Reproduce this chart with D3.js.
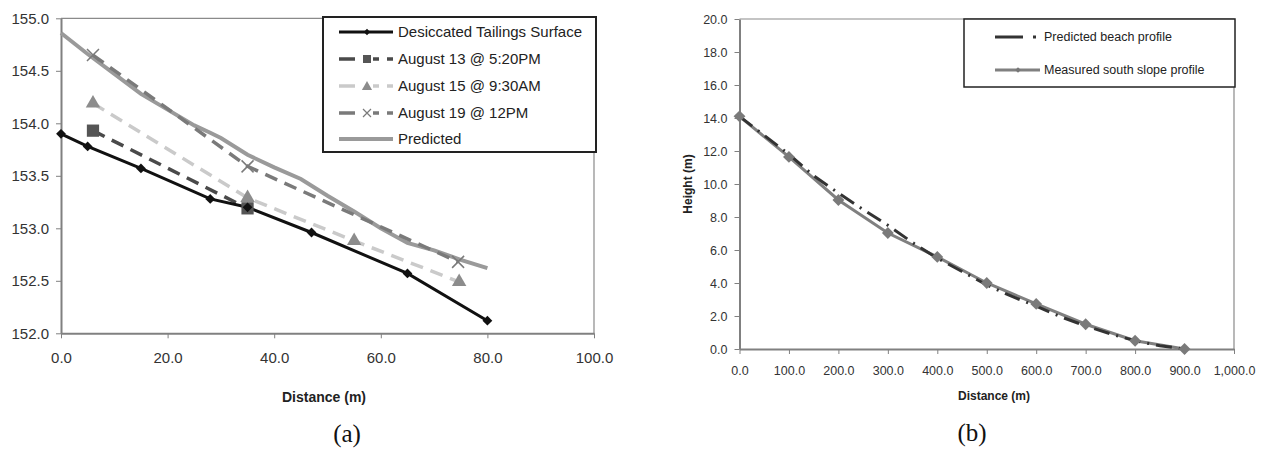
<!DOCTYPE html>
<html>
<head>
<meta charset="utf-8">
<script src="https://cdn.jsdelivr.net/npm/d3@7"></script>
<style>
    body { margin: 0; background: #fff; }
    svg { display: block; font-family: Arial, "Liberation Sans", sans-serif; }
    .axis path, .axis line { stroke: #808080; }
    .axis text { fill: #333; }
</style>
</head>
<body>
<svg id="chart" width="1265" height="455"></svg>
<script>
// ---- chart (a) data ----
var tailingsX = [0, 5, 15, 28, 35, 47, 65, 80];
var tailingsY = [153.90, 153.78, 153.57, 153.28, 153.20, 152.96, 152.57, 152.12];

var aug13X = [6, 35];
var aug13Y = [153.93, 153.19];

var aug15X = [6, 35, 55, 74.7];
var aug15Y = [154.19, 153.29, 152.88, 152.49];

var aug19X = [6, 35, 74.5];
var aug19Y = [154.65, 153.59, 152.68];

var predX = [0, 5, 10, 15, 20, 25, 28, 30, 35, 40, 45, 50, 55, 60, 65, 70, 75, 80];
var predY = [154.86, 154.66, 154.47, 154.28, 154.13, 153.98, 153.91, 153.86, 153.70, 153.58, 153.47, 153.31, 153.16, 153.00, 152.86, 152.79, 152.70, 152.62];

var aTicksX = [0, 20, 40, 60, 80, 100];
var aTicksY = [152, 152.5, 153, 153.5, 154, 154.5, 155];
var aLegend = ["Desiccated Tailings Surface", "August 13 @ 5:20PM", "August 15 @ 9:30AM", "August 19 @ 12PM", "Predicted"];

// ---- chart (b) data ----
var measuredX = [0, 100, 200, 300, 400, 500, 600, 700, 800, 900];
var measuredY = [14.1, 11.64, 9.03, 7.03, 5.58, 4.0, 2.73, 1.5, 0.5, 0.0];

var beachX = [0, 50, 100, 150, 200, 250, 300, 350, 400, 450, 500, 550, 600, 650, 700, 750, 800, 850, 900];
var beachY = [14.1, 12.95, 11.8, 10.5, 9.45, 8.45, 7.5, 6.45, 5.5, 4.7, 3.88, 3.2, 2.6, 1.95, 1.4, 0.92, 0.5, 0.2, 0.0];

var bTicksX = [0, 100, 200, 300, 400, 500, 600, 700, 800, 900, 1000];
var bTicksY = [0, 2, 4, 6, 8, 10, 12, 14, 16, 18, 20];
var bLegend = ["Predicted beach profile", "Measured south slope profile"];

function zip(xs, ys) {
    return xs.map(function(x, i) { return {x: x, y: ys[i]}; });
}

var svg = d3.select("#chart");

// diamond = rotated square
var diamond = function(size) { return d3.symbol().type(d3.symbolSquare).size(size)(); };
function xMark(r) {
    return "M" + (-r) + "," + (-r) + "L" + r + "," + r + "M" + (-r) + "," + r + "L" + r + "," + (-r);
}

// ================= chart (a) =================
var a = {left: 61, right: 594, top: 18.3, bottom: 333.3};
var ax = d3.scaleLinear().domain([0, 100]).range([a.left, a.right]);
var ay = d3.scaleLinear().domain([152, 155]).range([a.bottom, a.top]);

var ga = svg.append("g");

// frame
ga.append("path")
    .attr("d", "M" + a.left + "," + a.top + "H" + a.right + "V" + a.bottom)
    .attr("fill", "none")
    .attr("stroke", "#8a8a8a")
    .attr("stroke-width", 1.2);

ga.append("g")
    .attr("class", "axis")
    .attr("transform", "translate(0," + a.bottom + ")")
    .call(d3.axisBottom(ax).tickValues(aTicksX).tickFormat(d3.format(".1f")).tickSize(5).tickSizeOuter(0).tickPadding(14))
    .call(function(g) {
        g.select(".domain").attr("stroke-width", 2);
        g.selectAll("text").style("font-size", "15px");
    });

ga.append("g")
    .attr("class", "axis")
    .attr("transform", "translate(" + a.left + ",0)")
    .call(d3.axisLeft(ay).tickValues(aTicksY).tickFormat(d3.format(".1f")).tickSize(5).tickSizeOuter(0).tickPadding(7))
    .call(function(g) {
        g.select(".domain").attr("stroke-width", 2);
        g.selectAll("text").style("font-size", "15px");
    });

var lineA = d3.line()
    .x(function(d) { return ax(d.x); })
    .y(function(d) { return ay(d.y); });

// predicted
ga.append("path")
    .attr("d", lineA(zip(predX, predY)))
    .attr("fill", "none")
    .attr("stroke", "#9a9a9a")
    .attr("stroke-width", 4);

// aug 19
ga.append("path")
    .attr("d", lineA(zip(aug19X, aug19Y)))
    .attr("fill", "none")
    .attr("stroke", "#7a7a7a")
    .attr("stroke-width", 3.5)
    .attr("stroke-dasharray", "13,8");

// aug 15
ga.append("path")
    .attr("d", lineA(zip(aug15X, aug15Y)))
    .attr("fill", "none")
    .attr("stroke", "#cacaca")
    .attr("stroke-width", 3.5)
    .attr("stroke-dasharray", "13,8");

// aug 13
ga.append("path")
    .attr("d", lineA(zip(aug13X, aug13Y)))
    .attr("fill", "none")
    .attr("stroke", "#4a4a4a")
    .attr("stroke-width", 3.5)
    .attr("stroke-dasharray", "13,8");

// tailings
ga.append("path")
    .attr("d", lineA(zip(tailingsX, tailingsY)))
    .attr("fill", "none")
    .attr("stroke", "#111")
    .attr("stroke-width", 3);

ga.selectAll(".m19").data(zip(aug19X, aug19Y)).enter().append("path")
    .attr("transform", function(d) { return "translate(" + ax(d.x) + "," + ay(d.y) + ")"; })
    .attr("d", xMark(6))
    .attr("stroke", "#7a7a7a")
    .attr("stroke-width", 1.5)
    .attr("fill", "none");

ga.selectAll(".m15").data(zip(aug15X, aug15Y)).enter().append("path")
    .attr("transform", function(d) { return "translate(" + ax(d.x) + "," + ay(d.y) + ")"; })
    .attr("d", d3.symbol().type(d3.symbolTriangle).size(90)())
    .attr("fill", "#8c8c8c");

ga.selectAll(".m13").data(zip(aug13X, aug13Y)).enter().append("path")
    .attr("transform", function(d) { return "translate(" + ax(d.x) + "," + ay(d.y) + ")"; })
    .attr("d", d3.symbol().type(d3.symbolSquare).size(150)())
    .attr("fill", "#555");

ga.selectAll(".mt").data(zip(tailingsX, tailingsY)).enter().append("path")
    .attr("transform", function(d) { return "translate(" + ax(d.x) + "," + ay(d.y) + ") rotate(45)"; })
    .attr("d", diamond(48))
    .attr("fill", "#111");

// legend (a)
ga.append("rect")
    .attr("x", 323).attr("y", 17)
    .attr("width", 273).attr("height", 135)
    .attr("fill", "#fff")
    .attr("stroke", "#222")
    .attr("stroke-width", 2);

var legA = [
    {color: "#111", dash: null, w: 3},
    {color: "#4a4a4a", dash: "16,8", w: 3.5},
    {color: "#cacaca", dash: "16,8", w: 3.5},
    {color: "#7a7a7a", dash: "16,8", w: 3.5},
    {color: "#9a9a9a", dash: null, w: 4}
];
var legAY = [32, 59, 86, 113, 139];

aLegend.forEach(function(name, i) {
    var y = legAY[i];
    ga.append("line")
        .attr("x1", 339).attr("x2", 393)
        .attr("y1", y).attr("y2", y)
        .attr("stroke", legA[i].color)
        .attr("stroke-width", legA[i].w)
        .attr("stroke-dasharray", legA[i].dash);
    ga.append("text")
        .attr("x", 398).attr("y", y)
        .attr("dy", "0.35em")
        .style("font-size", "15px")
        .attr("fill", "#222")
        .text(name);
});
ga.append("path").attr("transform", "translate(367," + legAY[0] + ") rotate(45)").attr("d", diamond(20)).attr("fill", "#111");
ga.append("rect").attr("x", 362).attr("y", legAY[1] - 5).attr("width", 11).attr("height", 10).attr("fill", "#fff");
ga.append("path").attr("transform", "translate(367," + legAY[1] + ")").attr("d", d3.symbol().type(d3.symbolSquare).size(64)()).attr("fill", "#555");
ga.append("rect").attr("x", 361).attr("y", legAY[2] - 5).attr("width", 12).attr("height", 10).attr("fill", "#fff");
ga.append("path").attr("transform", "translate(367," + (legAY[2] + 1) + ")").attr("d", d3.symbol().type(d3.symbolTriangle).size(45)()).attr("fill", "#8c8c8c");
ga.append("rect").attr("x", 361).attr("y", legAY[3] - 5).attr("width", 12).attr("height", 10).attr("fill", "#fff");
ga.append("path").attr("transform", "translate(367," + legAY[3] + ")").attr("d", xMark(4)).attr("stroke", "#7a7a7a").attr("stroke-width", 1.2);

ga.append("text")
    .attr("x", 324).attr("y", 397)
    .attr("dy", "0.35em")
    .attr("text-anchor", "middle")
    .style("font-size", "14px")
    .style("font-weight", "bold")
    .attr("fill", "#222")
    .text("Distance (m)");

ga.append("text")
    .attr("x", 347).attr("y", 433)
    .attr("dy", "0.35em")
    .attr("text-anchor", "middle")
    .style("font-family", "'Liberation Serif', 'Times New Roman', serif")
    .style("font-size", "25px")
    .attr("fill", "#111")
    .text("(a)");

// ================= chart (b) =================
var b = {left: 739.5, right: 1234, top: 19, bottom: 349};
var bx = d3.scaleLinear().domain([0, 1000]).range([b.left, b.right]);
var by = d3.scaleLinear().domain([0, 20]).range([b.bottom, b.top]);

var gb = svg.append("g");

gb.append("path")
    .attr("d", "M" + b.left + "," + b.top + "H" + b.right + "V" + b.bottom)
    .attr("fill", "none")
    .attr("stroke", "#8a8a8a")
    .attr("stroke-width", 1.2);

gb.append("g")
    .attr("class", "axis")
    .attr("transform", "translate(0," + b.bottom + ")")
    .call(d3.axisBottom(bx).tickValues(bTicksX).tickFormat(d3.format(",.1f")).tickSize(5).tickSizeOuter(0).tickPadding(12))
    .call(function(g) {
        g.select(".domain").attr("stroke-width", 2);
        g.selectAll("text").style("font-size", "12.5px");
    });

gb.append("g")
    .attr("class", "axis")
    .attr("transform", "translate(" + b.left + ",0)")
    .call(d3.axisLeft(by).tickValues(bTicksY).tickFormat(d3.format(".1f")).tickSize(5).tickSizeOuter(0).tickPadding(7))
    .call(function(g) {
        g.select(".domain").attr("stroke-width", 2);
        g.selectAll("text").style("font-size", "12.5px");
    });

var lineB = d3.line()
    .x(function(d) { return bx(d.x); })
    .y(function(d) { return by(d.y); });

gb.append("path")
    .attr("d", lineB(zip(measuredX, measuredY)))
    .attr("fill", "none")
    .attr("stroke", "#808080")
    .attr("stroke-width", 3);

gb.append("path")
    .attr("d", lineB(zip(beachX, beachY)))
    .attr("fill", "none")
    .attr("stroke", "#333")
    .attr("stroke-width", 3)
    .attr("stroke-dasharray", "16,7,2,7");

gb.selectAll(".mm").data(zip(measuredX, measuredY)).enter().append("path")
    .attr("transform", function(d) { return "translate(" + bx(d.x) + "," + by(d.y) + ") rotate(45)"; })
    .attr("d", diamond(70))
    .attr("fill", "#7a7a7a");

// legend (b)
gb.append("rect")
    .attr("x", 964).attr("y", 19)
    .attr("width", 271).attr("height", 68)
    .attr("fill", "#fff")
    .attr("stroke", "#222")
    .attr("stroke-width", 1.5);

gb.append("line")
    .attr("x1", 995).attr("x2", 1040).attr("y1", 37).attr("y2", 37)
    .attr("stroke", "#333").attr("stroke-width", 3)
    .attr("stroke-dasharray", "28,10,3,20");
gb.append("line")
    .attr("x1", 995).attr("x2", 1040).attr("y1", 70).attr("y2", 70)
    .attr("stroke", "#808080").attr("stroke-width", 3);
gb.append("path").attr("transform", "translate(1018,70) rotate(45)").attr("d", diamond(16)).attr("fill", "#777");

bLegend.forEach(function(name, i) {
    gb.append("text")
        .attr("x", 1044).attr("y", i === 0 ? 37 : 70)
        .attr("dy", "0.35em")
        .style("font-size", "12.5px")
        .attr("fill", "#222")
        .text(name);
});

gb.append("text")
    .attr("x", 994).attr("y", 396)
    .attr("dy", "0.35em")
    .attr("text-anchor", "middle")
    .style("font-size", "12px")
    .style("font-weight", "bold")
    .attr("fill", "#222")
    .text("Distance (m)");

gb.append("text")
    .attr("transform", "translate(688,184) rotate(-90)")
    .attr("dy", "0.35em")
    .attr("text-anchor", "middle")
    .style("font-size", "12px")
    .style("font-weight", "bold")
    .attr("fill", "#222")
    .text("Height (m)");

gb.append("text")
    .attr("x", 972).attr("y", 432)
    .attr("dy", "0.35em")
    .attr("text-anchor", "middle")
    .style("font-family", "'Liberation Serif', 'Times New Roman', serif")
    .style("font-size", "25px")
    .attr("fill", "#111")
    .text("(b)");
</script>
</body>
</html>
